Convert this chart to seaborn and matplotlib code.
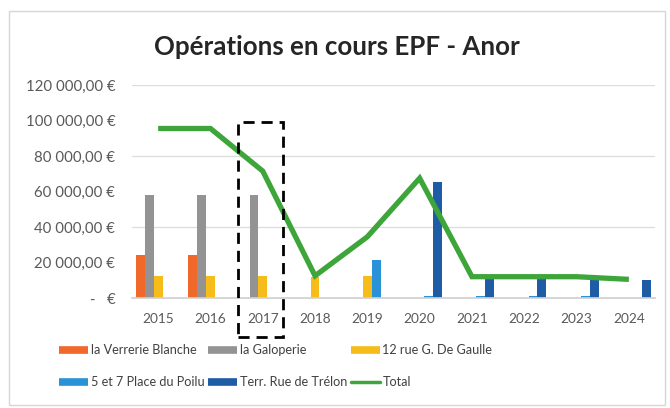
import matplotlib
matplotlib.use("Agg")
import matplotlib.pyplot as plt
import matplotlib.patches as mpatches
from matplotlib.lines import Line2D
import seaborn as sns
import pandas as pd
import numpy as np

years = ["2015", "2016", "2017", "2018", "2019", "2020", "2021", "2022", "2023", "2024"]
verrerie_blanche = [24000, 24000, np.nan, np.nan, np.nan, np.nan, np.nan, np.nan, np.nan, np.nan]
galoperie = [58000, 58000, 58000, np.nan, np.nan, np.nan, np.nan, np.nan, np.nan, np.nan]
rue_de_gaulle = [12500, 12500, 12500, 12000, 12500, np.nan, np.nan, np.nan, np.nan, np.nan]
place_du_poilu = [np.nan, np.nan, np.nan, np.nan, 21500, 1000, 1000, 1000, 1000, np.nan]
rue_de_trelon = [np.nan, np.nan, np.nan, np.nan, np.nan, 65500, 10500, 10500, 10500, 10200]
total = [95500, 95500, 71500, 12500, 34500, 67500, 12000, 12000, 12000, 10500]

series_names = ["la Verrerie Blanche", "la Galoperie", "12 rue G. De Gaulle",
                "5 et 7 Place du Poilu", "Terr. Rue de Trélon"]
series_values = [verrerie_blanche, galoperie, rue_de_gaulle, place_du_poilu, rue_de_trelon]
colors = ["#F0692A", "#939393", "#F6BC1A", "#2A92D6", "#1F5CA6"]
green = "#3EA53A"

y_ticks = [0, 20000, 40000, 60000, 80000, 100000, 120000]
y_labels = ["-   €", "20 000,00 €", "40 000,00 €", "60 000,00 €", "80 000,00 €",
            "100 000,00 €", "120 000,00 €"]
grid_values = [40000, 80000, 120000]

rows = []
for name, vals in zip(series_names, series_values):
    for y, v in zip(years, vals):
        rows.append({"year": y, "series": name, "value": v})
df = pd.DataFrame(rows)

sns.set_theme(style="white")
plt.rcParams["font.family"] = ["Lato", "DejaVu Sans"]

fig = plt.figure(figsize=(6.7, 4.08), dpi=100)
ax = fig.add_axes([132 / 670, 1 - 298 / 408, (655 - 132) / 670, (298 - 85) / 408])

for gv in grid_values:
    ax.axhline(gv, color="#dcdcdc", lw=0.9, zorder=0)

sns.barplot(data=df, x="year", y="value", hue="series", hue_order=series_names,
            order=years, palette=colors, width=0.84, saturation=1, ax=ax,
            legend=False, zorder=2, linewidth=0, edgecolor="none")

ax.plot(np.arange(len(years)), total, color=green, lw=3.8, solid_capstyle="butt",
        solid_joinstyle="miter", zorder=4)

ax.set_xlim(-0.5, len(years) - 0.5)
ax.set_ylim(0, 120000)
ax.set_yticks(y_ticks)
ax.set_yticklabels(y_labels)
ax.set_xlabel("")
ax.set_ylabel("")
for s in ["top", "right", "left"]:
    ax.spines[s].set_visible(False)
ax.spines["bottom"].set_color("#d0d0d0")
ax.tick_params(axis="both", length=0, labelcolor="#595959")
ax.tick_params(axis="y", pad=12, labelsize=10.8)
ax.tick_params(axis="x", pad=11, labelsize=9.8)

# dashed highlight around 2017
rect = mpatches.Rectangle((1.52, -22000), 0.86, 121000, fill=False, edgecolor="black",
                          lw=2, linestyle=(0, (4, 2.5)), clip_on=False, zorder=6)
ax.add_patch(rect)

fig.text(337 / 670, 1 - 47 / 408, "Opérations en cours EPF - Anor", ha="center",
         va="center", fontsize=18.6, fontweight="bold", color="#262626")

handles = [Line2D([], [], color=c, lw=5.5, solid_capstyle="butt") for c in colors]
handles.append(Line2D([], [], color=green, lw=2.5))
labels = series_names + ["Total"]
order = [0, 3, 1, 4, 2, 5]
fig.legend([handles[i] for i in order], [labels[i] for i in order], ncol=3,
           loc="upper left", bbox_to_anchor=(54 / 670, 1 - 339 / 408), frameon=False,
           fontsize=9.1, labelcolor="#404040", handlelength=2.3, handletextpad=0.2,
           columnspacing=0.3, labelspacing=1.6, borderaxespad=0)

fig.patches.append(mpatches.Rectangle((9 / 670, 3 / 408), 656 / 670, 394 / 408,
                                      transform=fig.transFigure, fill=False,
                                      edgecolor="#d6d6d6", lw=1))

fig.savefig("out.png", dpi=100)
